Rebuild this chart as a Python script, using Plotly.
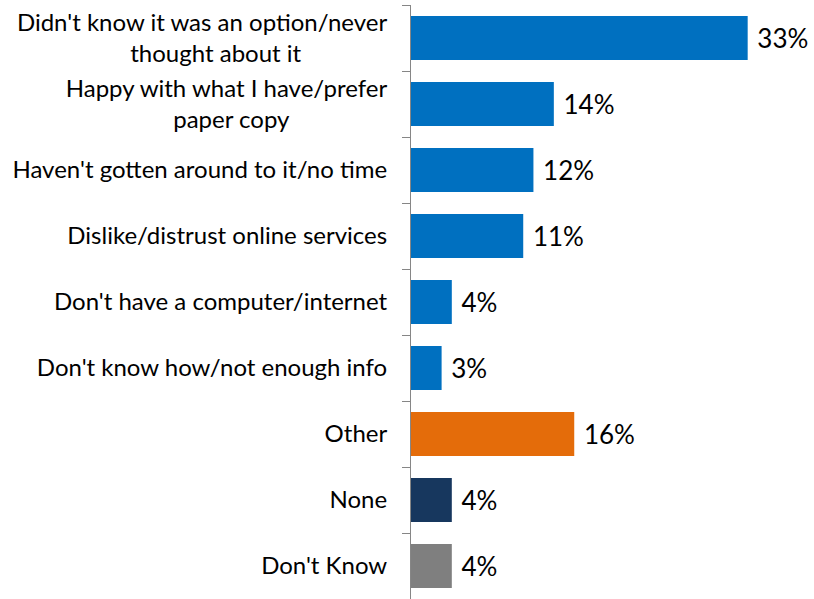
import plotly.graph_objects as go

NB = "\u00a0"

categories = [
    "Didn't know it was an option/never<br>thought about it" + NB * 14,
    "Happy with what I have/prefer<br>paper copy" + NB * 16,
    "Haven't gotten around to it/no time",
    "Dislike/distrust online services",
    "Don't have a computer/internet",
    "Don't know how/not enough info",
    "Other",
    "None",
    "Don't Know",
]
values = [33, 14, 12, 11, 4, 3, 16, 4, 4]
colors = ["#0070C0"] * 6 + ["#E46C0A", "#17375E", "#7F7F7F"]

FONT = "Lato"

fig = go.Figure(
    go.Bar(
        x=values,
        y=categories,
        orientation="h",
        marker=dict(color=colors, line=dict(width=0)),
        text=[f"{NB}{v}%" for v in values],
        textposition="outside",
        constraintext="none",
        cliponaxis=False,
        textfont=dict(family=FONT, size=26, color="#000000"),
        hoverinfo="skip",
    )
)

fig.update_layout(
    width=814,
    height=599,
    margin=dict(l=411, r=0, t=5, b=0),
    plot_bgcolor="white",
    paper_bgcolor="white",
    showlegend=False,
    bargap=0.33,
    font=dict(family=FONT, size=24, color="#000000"),
)
fig.update_xaxes(range=[0, 39.5], visible=False)
fig.update_yaxes(
    autorange="reversed",
    showline=True,
    linecolor="#868686",
    linewidth=1,
    ticks="outside",
    tickson="boundaries",
    ticklen=8,
    tickwidth=1,
    tickcolor="#868686",
    ticklabelstandoff=18,
    showgrid=False,
    tickfont=dict(family=FONT, size=24, color="#000000"),
)

fig.write_html("out.html")
